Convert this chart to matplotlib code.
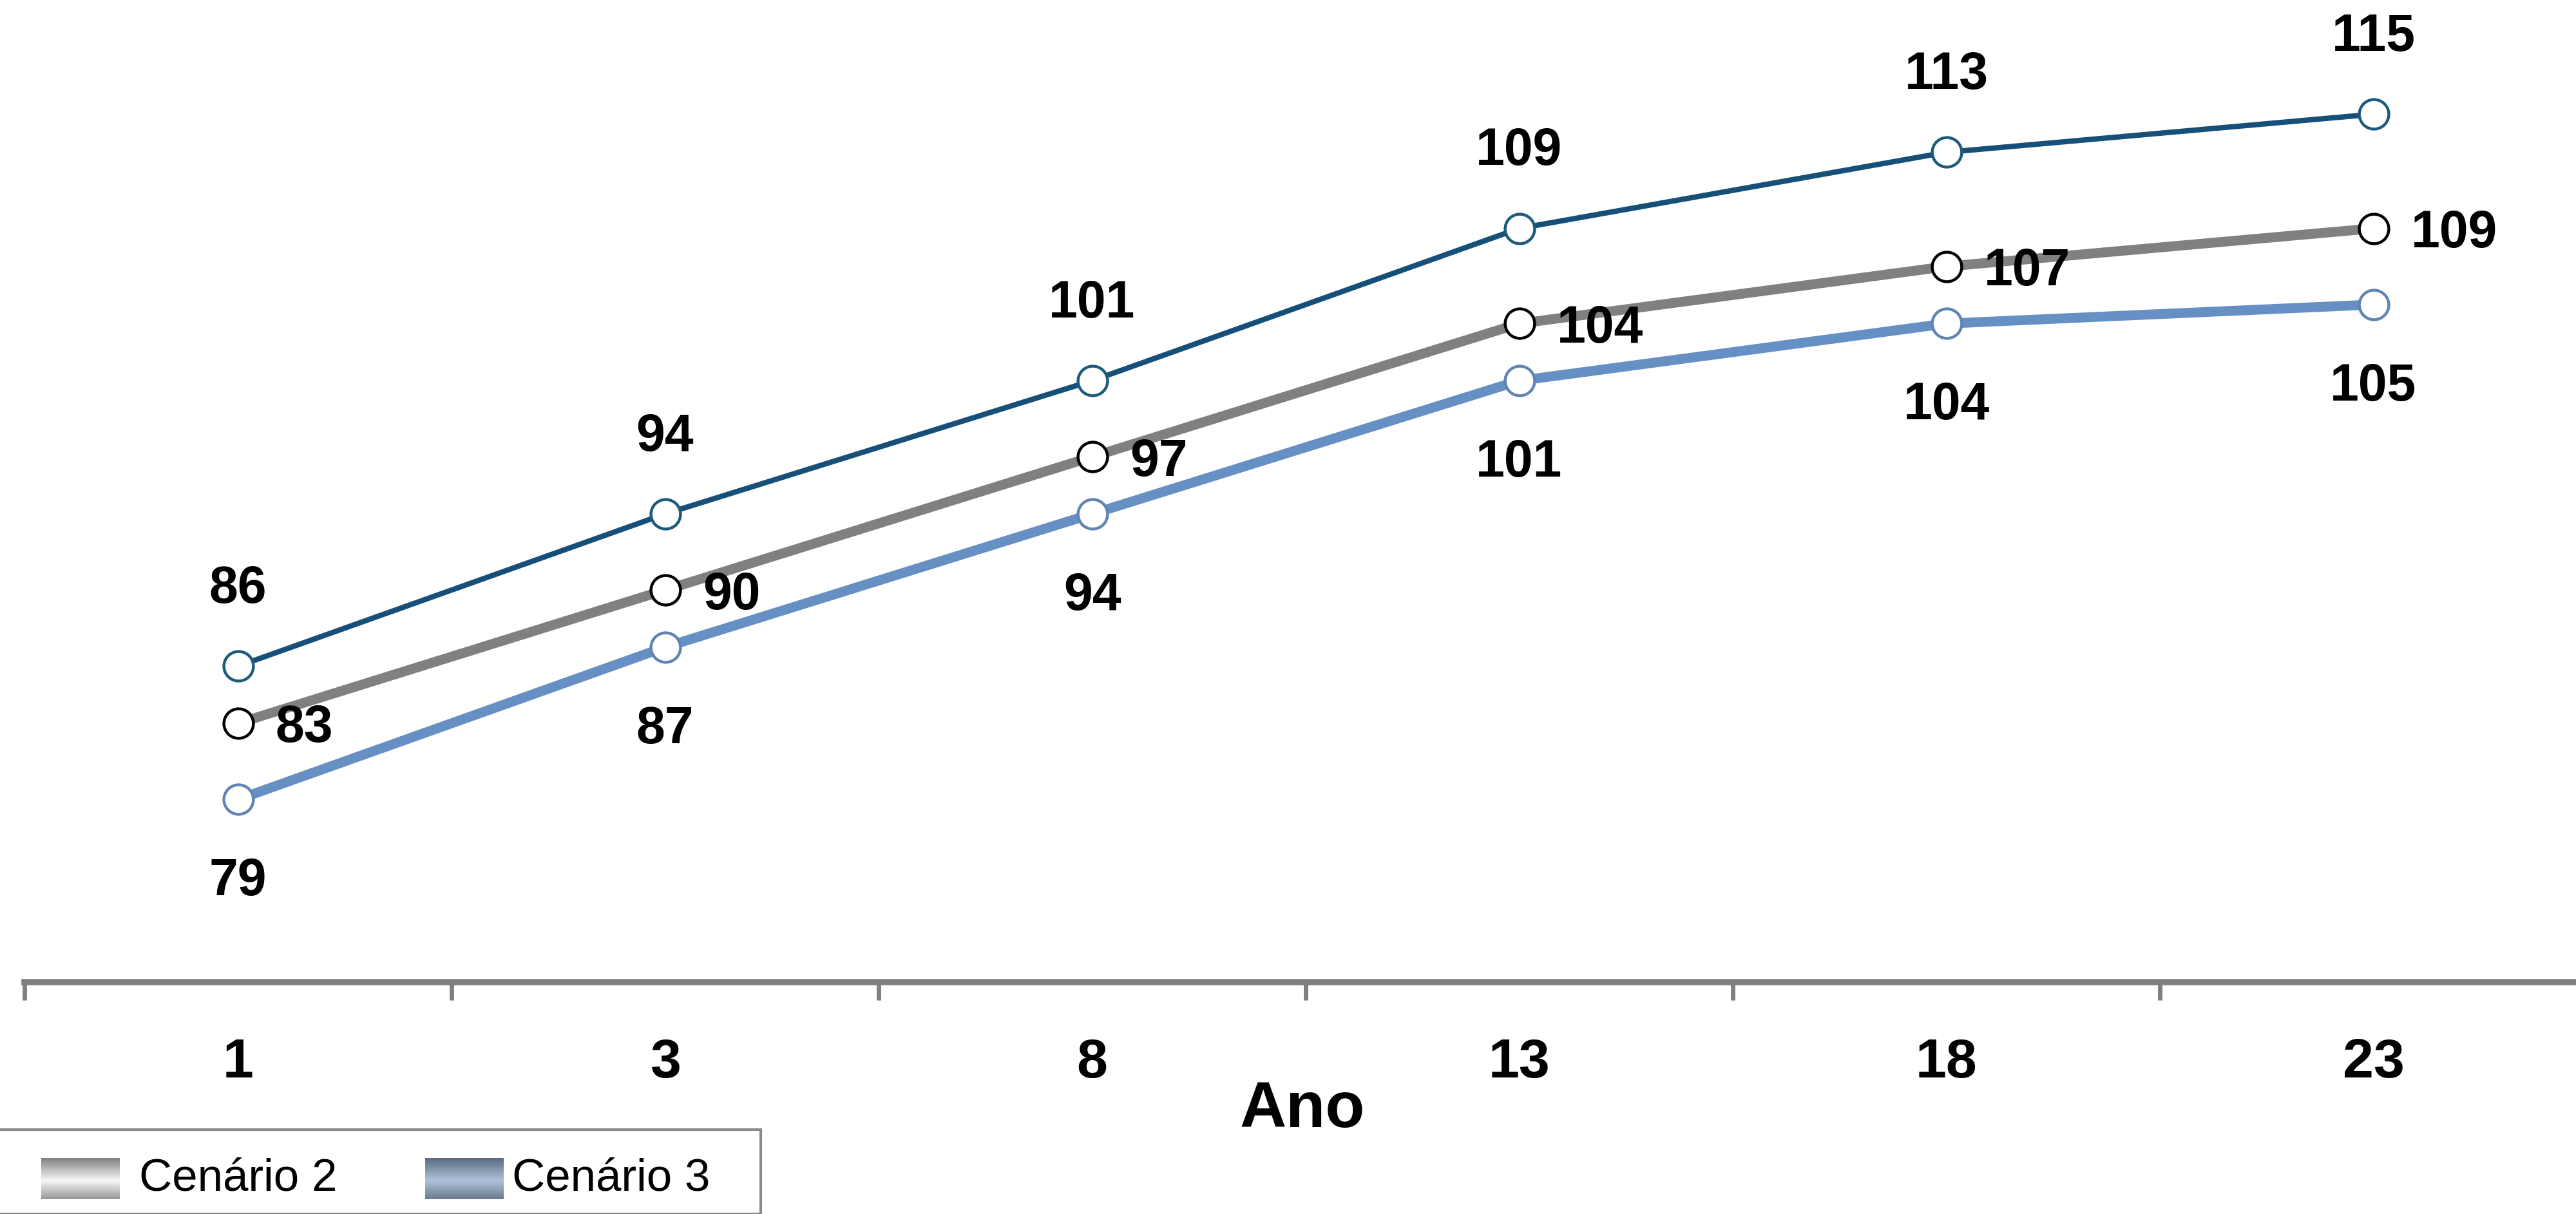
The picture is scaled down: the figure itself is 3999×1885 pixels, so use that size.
import numpy as np
import matplotlib.pyplot as plt
from matplotlib.patches import Rectangle

plt.rcParams['font.family'] = ['Liberation Sans', 'DejaVu Sans']

anos = ['1', '3', '8', '13', '18', '23']
cenario_1 = [86, 94, 101, 109, 113, 115]
cenario_2 = [83, 90, 97, 104, 107, 109]
cenario_3 = [79, 87, 94, 101, 104, 105]

x = np.arange(len(anos))

fig = plt.figure(figsize=(39.99, 18.85), dpi=100)
ax = fig.add_axes([38 / 3999, 1 - 1525 / 1885, 6 * 663 / 3999, 1525 / 1885])
ax.set_facecolor('none')

ax.plot(x, cenario_1, color='#165078', lw=6, marker='o', ms=33,
        mfc='white', mec='#1d5a7c', mew=3.2, zorder=3)
ax.plot(x, cenario_2, color='#808080', lw=11, marker='o', ms=33,
        mfc='white', mec='black', mew=3.2, zorder=3)
ax.plot(x, cenario_3, color='#6690c4', lw=11, marker='o', ms=33,
        mfc='white', mec='#6085b0', mew=3.2, zorder=3)

lbl = dict(fontsize=58, fontweight='bold', color='black',
           textcoords='offset points', va='center')
for i in range(len(anos)):
    ax.annotate(str(cenario_1[i]), (x[i], cenario_1[i]), xytext=(0, 86), ha='center', **lbl)
    ax.annotate(str(cenario_2[i]), (x[i], cenario_2[i]), xytext=(42, -6), ha='left', **lbl)
    ax.annotate(str(cenario_3[i]), (x[i], cenario_3[i]), xytext=(0, -92), ha='center', **lbl)

ax.set_xlim(-0.5, 5.5)
ax.set_ylim(69.4, 121.0)

for s in ['top', 'right', 'left']:
    ax.spines[s].set_visible(False)
ax.spines['bottom'].set_color('#808080')
ax.spines['bottom'].set_linewidth(7)
ax.set_yticks([])

# boundaries between categories carry the tick marks, centres carry the labels
ax.set_xticks(np.arange(-0.5, 6.0, 1.0))
ax.set_xticklabels([])
ax.tick_params(axis='x', which='major', length=20, width=5, color='#808080', direction='out')
ax.set_xticks(x, minor=True)
ax.set_xticklabels(anos, minor=True)
ax.tick_params(axis='x', which='minor', length=0, pad=62, labelsize=62)
for t in ax.get_xticklabels(minor=True):
    t.set_fontweight('bold')

fig.text(2022 / 3999, 1 - 1724 / 1885, 'Ano', fontsize=72, fontweight='bold',
         ha='center', va='center')

# legend box with metallic swatches
fig.patches.append(Rectangle((-0.01, 0), 1181 / 3999 + 0.01, 1 - 1754 / 1885,
                             transform=fig.transFigure, facecolor='white',
                             edgecolor='#8a8a8a', lw=3, zorder=0))

def swatch(x0, dark, light):
    sax = fig.add_axes([x0 / 3999, 1 - 1862 / 1885, 122 / 3999, 64 / 1885], zorder=5)
    t = np.linspace(0, 1, 64)
    w = 1 - np.abs(t - 0.55) * 1.8
    w = np.clip(w, 0, 1)
    d = np.array(dark)
    l = np.array(light)
    img = d[None, :] * (1 - w[:, None]) + l[None, :] * w[:, None]
    sax.imshow(img[:, None, :], aspect='auto')
    sax.axis('off')

swatch(64, [0.50, 0.50, 0.50], [0.97, 0.97, 0.97])
swatch(660, [0.36, 0.42, 0.50], [0.68, 0.76, 0.85])
fig.text(216 / 3999, 1 - 1830 / 1885, 'Cenário 2', fontsize=51, va='center')
fig.text(795 / 3999, 1 - 1830 / 1885, 'Cenário 3', fontsize=51, va='center')

fig.savefig('out.png', dpi=100)
